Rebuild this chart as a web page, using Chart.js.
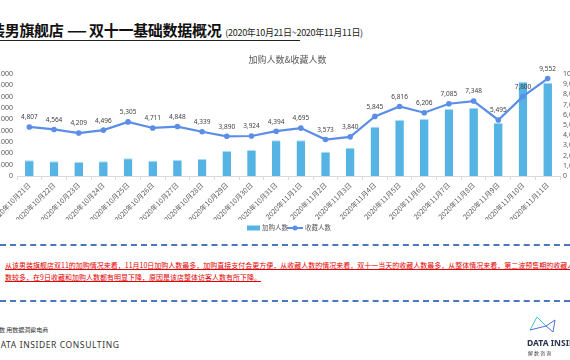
<!DOCTYPE html>
<html>
<head>
<meta charset="utf-8">
<script src="https://cdn.jsdelivr.net/npm/chart.js@4.4.1/dist/chart.umd.min.js"></script>
<style>
  html,body{margin:0;padding:0;background:#fff;}
  body{width:570px;height:360px;overflow:hidden;position:relative;font-family:"Noto Sans CJK SC","Noto Sans",sans-serif;}
  .abs{position:absolute;white-space:nowrap;}
  #title{left:-10px;top:19px;font-size:15px;font-weight:bold;color:#111;letter-spacing:-0.3px;}
  #title .dsh{display:inline-block;transform:scaleX(1.5);margin:0 3px;}
  #title span.d{font-size:9px;font-weight:normal;color:#222;margin-left:4px;}
  #rule{left:0;top:40px;width:300px;height:0;border-top:1.5px solid #222;}
  .dash{left:0;width:570px;height:0;border-top:2px dashed #4a78c0;}
  .note{left:5px;font-size:7px;color:#e00000;text-decoration:underline;line-height:12px;}
  #src{left:-7px;top:325px;font-size:6px;color:#333;}
  #brand{left:-6px;top:339px;font-size:8.5px;color:#333;letter-spacing:0.6px;font-family:"Noto Sans",sans-serif;}
  #chartwrap{position:absolute;left:-30px;top:48px;width:640px;height:190px;}
</style>
</head>
<body>
<div id="title" class="abs">装男旗舰店 <span class="dsh">—</span> 双十一基础数据概况<span class="d">(2020年10月21日~2020年11月11日)</span></div>
<div id="rule" class="abs"></div>
<div id="chartwrap"><canvas id="c" width="640" height="190"></canvas></div>
<div class="abs dash" style="top:244px"></div>
<div class="abs note" style="top:259px">从该男装旗舰店双11的加购情况来看，11月10日加购人数最多，加购直接支付会更方便，从收藏人数的情况来看，双十一当天的收藏人数最多，从整体情况来看，第二波预售期的收藏人数和加购人</div>
<div class="abs note" style="top:271px">数较多，在9日收藏和加购人数都有明显下降，原因是该店整体访客人数有所下降。</div>
<div class="abs dash" style="top:300px"></div>
<div id="src" class="abs">解数 用数据洞察电商</div>
<div id="brand" class="abs">DATA INSIDER CONSULTING</div>
<svg class="abs" style="left:0;top:0" width="570" height="360">
  <polyline points="530,330 537,317 546,326" fill="none" stroke="#3fc1c9" stroke-width="1"/>
  <polyline points="530,330 546,326 555,320 553,332 546,326" fill="none" stroke="#4a6fd0" stroke-width="1"/>
  <text x="527" y="346" font-size="8.5" font-family="Noto Sans" fill="#2c3550" font-weight="bold">DATA INSIDER</text>
  <text x="528" y="355" font-size="5" font-family="Noto Sans CJK SC" fill="#444">解 数 咨 询</text>
</svg>
<script>
const categories = ['2020年10月21日','2020年10月22日','2020年10月23日','2020年10月24日','2020年10月25日','2020年10月26日','2020年10月27日','2020年10月28日','2020年10月29日','2020年10月30日','2020年10月31日','2020年11月1日','2020年11月2日','2020年11月3日','2020年11月4日','2020年11月5日','2020年11月6日','2020年11月7日','2020年11月8日','2020年11月9日','2020年11月10日','2020年11月11日'];
const addToCart = [1385,1297,1235,1297,1570,1350,1412,1500,2206,2294,3150,3150,2144,2497,4350,4941,5030,5912,6026,4703,8321,8232];
const favorites = [4807,4564,4209,4496,5305,4711,4848,4339,3890,3924,4394,4695,3573,3840,5845,6816,6206,7085,7348,5495,7800,9552];
const seriesNames = ['加购人数','收藏人数'];
const chartTitle = '加购人数&收藏人数';
const leftMax = 9000, rightMax = 10000, tickStep = 1000;

const fmt = v => v.toLocaleString('en-US');
const BAR = '#56b4e4', LINE = '#5b8ee6', TXT = '#595959';

const deco = {
  id:'deco',
  afterDatasetsDraw(chart){
    const ctx = chart.ctx;
    const meta = chart.getDatasetMeta(1);
    ctx.save();
    ctx.font = '6.5px "Noto Sans", sans-serif';
    ctx.fillStyle = '#404040';
    ctx.textAlign = 'center';
    ctx.textBaseline = 'middle';
    meta.data.forEach((p,i)=>{ ctx.fillText(fmt(favorites[i]), p.x, p.y - 9.5); });
    ctx.restore();
  },
  afterDraw(chart){
    const ctx = chart.ctx, a = chart.chartArea;
    ctx.save();
    ctx.fillStyle = TXT;
    ctx.textBaseline = 'middle';
    ctx.textAlign = 'center';
    ctx.font = '9px "Noto Sans CJK SC", sans-serif';
    ctx.fillText(chartTitle, (a.left + a.right)/2 - 1, 12);
    // legend
    const ly = 180;
    ctx.font = '6.5px "Noto Sans CJK SC", sans-serif';
    ctx.textAlign = 'left';
    let x = 277;
    ctx.fillStyle = BAR;
    ctx.fillRect(x, ly-2.5, 13, 5);
    ctx.fillStyle = TXT;
    ctx.fillText(seriesNames[0], x+15, ly);
    x = 317;
    ctx.strokeStyle = LINE; ctx.lineWidth = 2;
    ctx.beginPath(); ctx.moveTo(x, ly); ctx.lineTo(x+16, ly); ctx.stroke();
    ctx.fillStyle = LINE;
    ctx.beginPath(); ctx.arc(x+8, ly, 2.5, 0, Math.PI*2); ctx.fill();
    ctx.fillStyle = TXT;
    ctx.fillText(seriesNames[1], x+18, ly);
    ctx.restore();
  }
};

new Chart(document.getElementById('c'), {
  data: {
    labels: categories,
    datasets: [
      { type:'bar', label:seriesNames[0], data:addToCart, yAxisID:'y', backgroundColor:BAR,
        borderColor:'#a9dbf3', borderWidth:{top:1,left:0,right:0,bottom:0}, borderSkipped:false,
        categoryPercentage:1, barPercentage:0.35, order:2 },
      { type:'line', label:seriesNames[1], data:favorites, yAxisID:'y1', borderColor:LINE, backgroundColor:LINE,
        borderWidth:2.2, pointRadius:2.8, pointBackgroundColor:LINE, pointBorderWidth:0, tension:0, order:1 }
    ]
  },
  options: {
    responsive:false, animation:false, devicePixelRatio:1,
    layout:{ padding:{ top:26, bottom:18, left:0, right:0 } },
    plugins:{ legend:{display:false}, tooltip:{enabled:false}, title:{display:false} },
    scales:{
      x:{ offset:true,
          grid:{ display:true, drawOnChartArea:false, drawTicks:true, tickLength:4, color:'#d9d9d9', offset:true },
          border:{ color:'#d9d9d9' },
          ticks:{ autoSkip:false, maxRotation:45, minRotation:45, color:TXT, padding:1,
                  font:{ size:7, family:'"Noto Sans CJK SC", sans-serif' } },
          afterFit(s){ s.height = 44; } },
      y:{ position:'left', min:0, max:leftMax,
          ticks:{ stepSize:tickStep, autoSkip:false, color:TXT, padding:4, callback:v=>fmt(v), font:{ size:7, family:'"Noto Sans", sans-serif' } },
          grid:{ display:false, drawTicks:false, tickLength:0 }, border:{ display:false },
          afterFit(s){ s.width = 47; } },
      y1:{ position:'right', min:0, max:rightMax,
          ticks:{ stepSize:tickStep, autoSkip:false, color:TXT, padding:3, callback:v=>fmt(v), font:{ size:7, family:'"Noto Sans", sans-serif' } },
          grid:{ display:false, drawTicks:false, tickLength:0 }, border:{ display:false },
          afterFit(s){ s.width = 50; } }
    }
  },
  plugins:[deco]
});
</script>
</body>
</html>
